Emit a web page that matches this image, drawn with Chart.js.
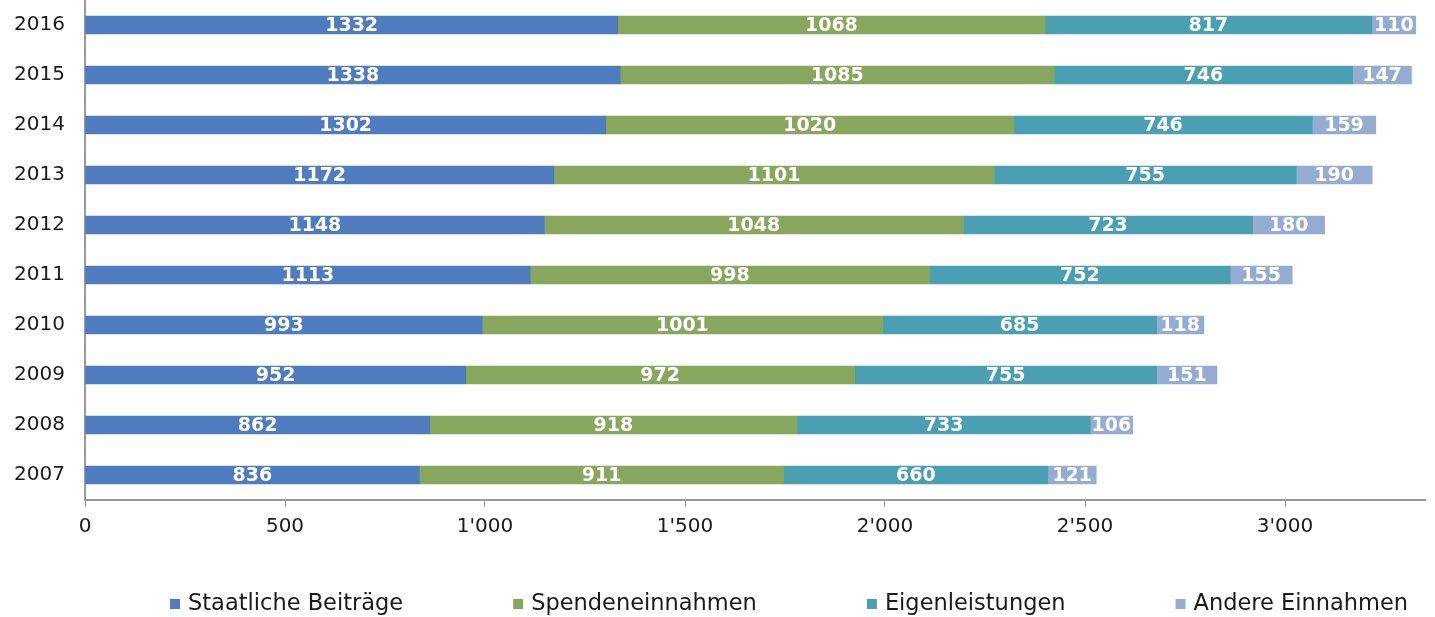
<!DOCTYPE html>
<html>
<head>
<meta charset="utf-8">
<script src="https://cdn.jsdelivr.net/npm/chart.js@4/dist/chart.umd.min.js"></script>
<style>
  html, body { margin: 0; padding: 0; background: #fff; }
  #wrap { width: 1435px; height: 617px; position: relative; }
</style>
</head>
<body>
<div id="wrap"><canvas id="chart"></canvas></div>
<script>
// Daten (Jahre von oben nach unten)
const years = ['2016', '2015', '2014', '2013', '2012', '2011', '2010', '2009', '2008', '2007'];
const staatliche = [1332, 1338, 1302, 1172, 1148, 1113, 993, 952, 862, 836];
const spenden = [1068, 1085, 1020, 1101, 1048, 998, 1001, 972, 918, 911];
const eigen = [817, 746, 746, 755, 723, 752, 685, 755, 733, 660];
const andere = [110, 147, 159, 190, 180, 155, 118, 151, 106, 121];
const seriesNames = ['Staatliche Beiträge', 'Spendeneinnahmen', 'Eigenleistungen', 'Andere Einnahmen'];
const xTicks = [0, 500, 1000, 1500, 2000, 2500, 3000];

const colors = ['#4f7bbf', '#87a75e', '#4aa0b2', '#94acd2'];
const FONT = '"DejaVu Sans", Verdana, sans-serif';

function fmt(v) {
    if (v < 1000) return String(v);
    return Math.floor(v / 1000) + "'" + String(v % 1000).padStart(3, '0');
}

// Werte in die Balken schreiben
const valueLabels = {
    id: 'valueLabels',
    afterDatasetsDraw(chart) {
        const ctx = chart.ctx;
        ctx.save();
        ctx.font = 'bold 19px ' + FONT;
        ctx.fillStyle = '#fff';
        ctx.textAlign = 'center';
        ctx.textBaseline = 'middle';
        chart.data.datasets.forEach((ds, i) => {
            const meta = chart.getDatasetMeta(i);
            meta.data.forEach((bar, j) => {
                const cx = (bar.x + bar.base) / 2;
                ctx.fillText(String(ds.data[j]), cx, bar.y + 1);
            });
        });
        ctx.restore();
    }
};

// Legende unten, weit auseinander wie im Original
const bottomLegend = {
    id: 'bottomLegend',
    afterDraw(chart) {
        const ctx = chart.ctx;
        ctx.save();
        ctx.font = '22.5px ' + FONT;
        ctx.textBaseline = 'middle';
        ctx.textAlign = 'left';
        const y = 604;
        const gap = 110;
        let x = 170;
        chart.data.datasets.forEach((ds) => {
            ctx.fillStyle = ds.backgroundColor;
            ctx.fillRect(x, y - 5, 10, 10);
            ctx.fillStyle = '#1a1a1a';
            ctx.fillText(ds.label, x + 18, y);
            x += 18 + ctx.measureText(ds.label).width + gap;
        });
        ctx.restore();
    }
};

const seriesData = [staatliche, spenden, eigen, andere];

new Chart(document.getElementById('chart'), {
    type: 'bar',
    data: {
        labels: years,
        datasets: seriesData.map((d, i) => ({
            label: seriesNames[i],
            data: d,
            backgroundColor: colors[i],
            borderWidth: 0,
            barThickness: 18
        }))
    },
    options: {
        indexAxis: 'y',
        responsive: true,
        maintainAspectRatio: false,
        animation: false,
        layout: { autoPadding: false, padding: { left: 10, right: 10, top: 0, bottom: 60 } },
        plugins: {
            legend: { display: false },
            tooltip: { enabled: false }
        },
        scales: {
            x: {
                stacked: true,
                min: 0,
                max: 3350,
                afterBuildTicks: (scale) => { scale.ticks = xTicks.map(v => ({ value: v })); },
                afterFit: (scale) => { scale.height = 57; },
                grid: { drawOnChartArea: false, drawTicks: true, tickLength: 7, color: '#999' },
                border: { color: '#999', width: 2 },
                ticks: {
                    color: '#1a1a1a',
                    padding: 8,
                    font: { family: FONT, size: 20 },
                    callback: (v) => fmt(v)
                }
            },
            y: {
                stacked: true,
                afterFit: (scale) => {
                    scale.width = 75;
                    scale.paddingTop = 0;
                    scale.paddingBottom = 0;
                },
                grid: { drawOnChartArea: false, drawTicks: false },
                border: { color: '#999', width: 2 },
                ticks: {
                    color: '#1a1a1a',
                    padding: 20,
                    font: { family: FONT, size: 20 }
                }
            }
        }
    },
    plugins: [valueLabels, bottomLegend]
});
</script>
</body>
</html>
